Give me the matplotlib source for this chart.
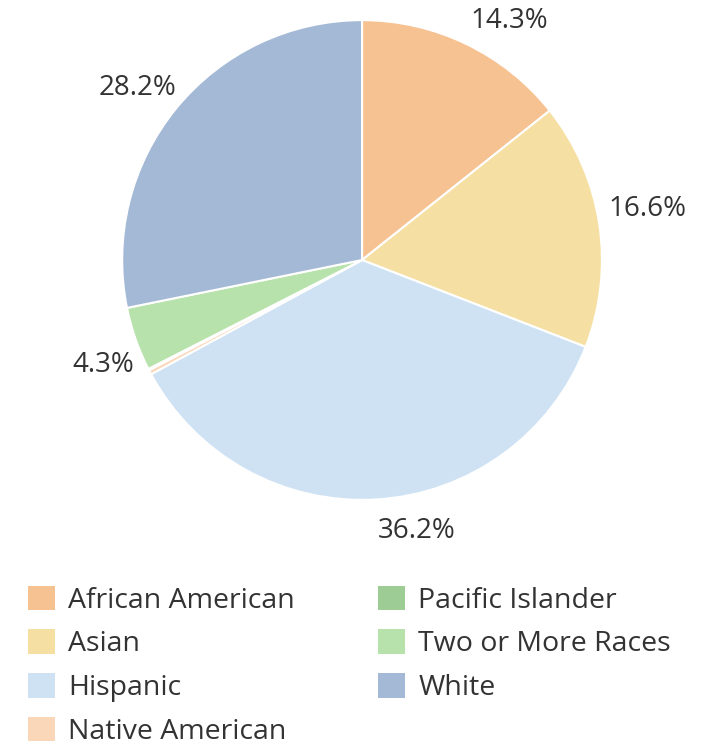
import numpy as np
import matplotlib.pyplot as plt
from matplotlib.patches import Patch

plt.rcParams['font.family'] = ['Open Sans', 'DejaVu Sans']

groups = ["African American", "Asian", "Hispanic", "Native American",
          "Pacific Islander", "Two or More Races", "White"]
shares = [14.3, 16.6, 36.2, 0.3, 0.1, 4.3, 28.2]
colors = ["#F7C292", "#F6DFA2", "#CFE2F3", "#FAD7B8",
          "#9DCC95", "#B8E2AB", "#A3B9D5"]

fig = plt.figure(figsize=(7.18, 7.45), dpi=100)
ax = fig.add_axes([0.170, 0.329, 0.6685, 0.644])

wedges, _ = ax.pie(shares, colors=colors, startangle=90, counterclock=False,
                   radius=1, wedgeprops=dict(edgecolor="white", linewidth=1.5))

# percentage labels just outside the rim, anchored by their corner
for w, v in zip(wedges, shares):
    if v < 1:
        continue
    ang = np.deg2rad((w.theta1 + w.theta2) / 2)
    c, s = np.cos(ang), np.sin(ang)
    x, y = 1.04 * c, 1.04 * s
    if c < 0:
        x += 0.03
    if s < 0:
        y -= 0.035
    ax.text(x, y, f"{v:.1f}%",
            ha="left" if c >= 0 else "right",
            va="bottom" if s >= 0 else "top",
            fontsize=20, color="#333333")

ax.set_xlim(-1, 1)
ax.set_ylim(-1, 1)
ax.set_aspect("equal")
ax.axis("off")

handles = [Patch(facecolor=c, edgecolor="none") for c in colors]
fig.legend(handles, groups, loc="upper left", bbox_to_anchor=(0.023, 0.229),
           ncol=2, frameon=False, fontsize=20.5, labelcolor="#333333",
           handlelength=0.95, handleheight=0.95, handletextpad=0.46,
           columnspacing=2.92, labelspacing=0.51, borderaxespad=0)

fig.savefig("out.png", dpi=100)
